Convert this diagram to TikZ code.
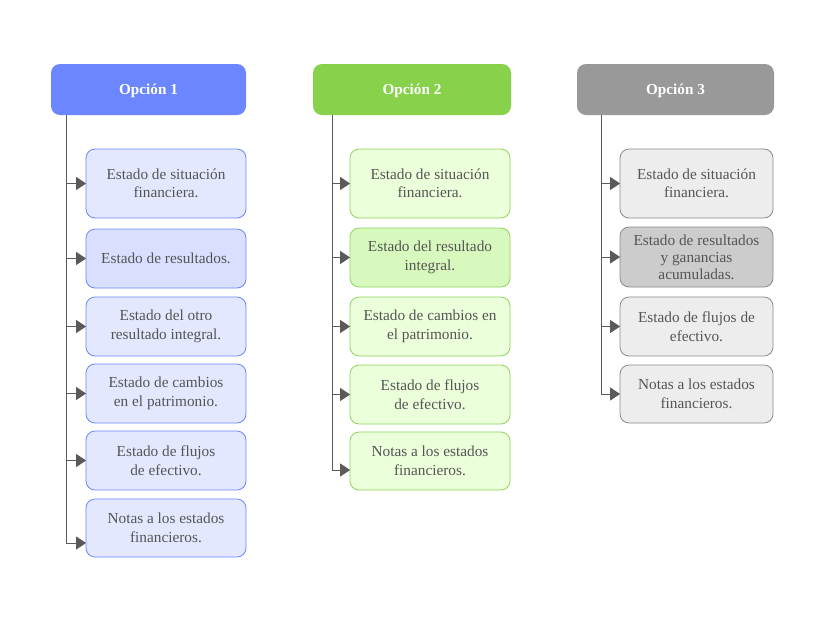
\documentclass[tikz,border=0pt]{standalone}
\usepackage{fontspec}
\setmainfont{Liberation Serif}
\usetikzlibrary{arrows.meta,calc}
\definecolor{txt}{HTML}{555555}
\definecolor{lin}{HTML}{5A5A5A}
\definecolor{hA}{HTML}{6B86FF}
\definecolor{fA}{HTML}{E3E8FF}
\definecolor{fAd}{HTML}{D9E0FF}
\definecolor{hB}{HTML}{88D14A}
\definecolor{bB}{HTML}{8FD45A}
\definecolor{fB}{HTML}{EBFFDB}
\definecolor{fBd}{HTML}{D8F9BD}
\definecolor{hC}{HTML}{999999}
\definecolor{fC}{HTML}{EDEDED}
\definecolor{fCd}{HTML}{CCCCCC}
\tikzset{
  head/.style={rounded corners=9pt, minimum height=51pt, text=white,
    font=\fontsize{15.2}{17}\selectfont\bfseries, inner sep=0pt, text depth=0pt},
  item/.style={rounded corners=9pt, draw, line width=0.8pt, text=txt, align=center,
    font=\fontsize{15.3}{18.5}\selectfont, inner sep=0pt, minimum width=160pt},
  itemA/.style={item, draw=hA, fill=fA},
  itemB/.style={item, draw=bB, fill=fB},
  itemC/.style={item, draw=hC!90!black, fill=fC, minimum width=153pt},
  trunk/.style={draw=lin, line width=0.9pt},
  arr/.style={draw=lin, line width=0.9pt, -{Triangle[length=10pt,width=13pt]}, shorten >=-0.5pt},
}
\begin{document}
\begin{tikzpicture}[x=1pt,y=-1pt]
\useasboundingbox[fill=white] (0,0) rectangle (824,622);
% headers
\node[head, fill=hA, minimum width=195pt] (h1) at (148.5,89.5) {Opción 1};
\node[head, fill=hB, minimum width=198pt] (h2) at (412,89.5) {Opción 2};
\node[head, fill=hC, minimum width=197pt] (h3) at (675.5,89.5) {Opción 3};
% column 1
\node[itemA, minimum height=69pt] (a1) at (166,183.5) {Estado de situación\\financiera.};
\node[itemA, fill=fAd, minimum height=59pt] (a2) at (166,258.5) {Estado de resultados.};
\node[itemA, minimum height=59pt] (a3) at (166,326.5) {Estado del otro\\resultado integral.};
\node[itemA, minimum height=59pt] (a4) at (166,393.5) {Estado de cambios\\en el patrimonio.};
\node[itemA, minimum height=59pt] (a5) at (166,460.5) {Estado de flujos\\de efectivo.};
\node[itemA, minimum height=58pt] (a6) at (166,528) {Notas a los estados\\financieros.};
% column 2
\node[itemB, minimum height=69pt] (b1) at (430,183.5) {Estado de situación\\financiera.};
\node[itemB, fill=fBd, minimum height=59pt] (b2) at (430,257.5) {Estado del resultado\\integral.};
\node[itemB, minimum height=59pt] (b3) at (430,326.5) {Estado de cambios en\\el patrimonio.};
\node[itemB, minimum height=59pt] (b4) at (430,394.5) {Estado de flujos\\de efectivo.};
\node[itemB, minimum height=58pt] (b5) at (430,461) {Notas a los estados\\financieros.};
% column 3
\node[itemC, minimum height=69pt] (c1) at (696.5,183.5) {Estado de situación\\financiera.};
\node[itemC, fill=fCd, minimum height=60pt, font=\fontsize{15.3}{17}\selectfont] (c2) at (696.5,257) {Estado de resultados\\y ganancias\\acumuladas.};
\node[itemC, minimum height=59pt] (c3) at (696.5,326.5) {Estado de flujos de\\efectivo.};
\node[itemC, minimum height=58pt] (c4) at (696.5,394) {Notas a los estados\\financieros.};
% trunk coordinates
\coordinate (s1) at (66,115);
\coordinate (s2) at (332,115);
\coordinate (s3) at (601,115);
\coordinate (t16) at ([yshift=-15pt]a6.west);
\coordinate (t25) at ([yshift=-9pt]b5.west);
\coordinate (e1) at (s1 |- t16);
\coordinate (e2) at (s2 |- t25);
\coordinate (e3) at (s3 |- c4.west);
\draw[trunk] (s1) -- (e1);
\draw[trunk] (s2) -- (e2);
\draw[trunk] (s3) -- (e3);
% arrows col 1
\foreach \n in {a1,a2,a3,a4,a5}{\draw[arr] (s1 |- \n.west) -- (\n.west);}
\draw[arr] (e1) -- (t16);
% arrows col 2
\foreach \n in {b1,b2,b3,b4}{\draw[arr] (s2 |- \n.west) -- (\n.west);}
\draw[arr] (e2) -- (t25);
% arrows col 3
\foreach \n in {c1,c2,c3,c4}{\draw[arr] (s3 |- \n.west) -- (\n.west);}
\end{tikzpicture}
\end{document}
